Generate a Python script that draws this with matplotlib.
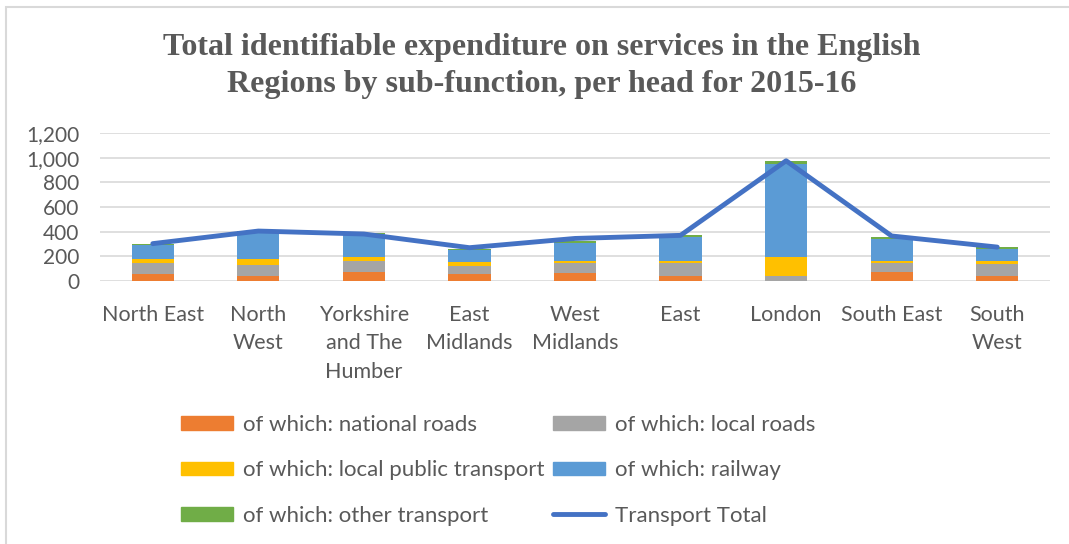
import matplotlib
matplotlib.use("Agg")
import matplotlib.pyplot as plt
from matplotlib.patches import Rectangle, Patch
from matplotlib.lines import Line2D
import numpy as np

regions = ["North East", "North\nWest", "Yorkshire\nand The\nHumber", "East\nMidlands",
           "West\nMidlands", "East", "London", "South East", "South\nWest"]

national_roads = [56, 42, 75, 56, 61, 42, 2, 73, 41]
local_roads = [94, 89, 89, 69, 81, 100, 41, 73, 95]
local_public_transport = [28, 47, 28, 28, 19, 19, 152, 14, 27]
railway = [111, 217, 189, 95, 150, 192, 751, 182, 93]
other_transport = [14, 8, 8, 14, 11, 17, 24, 16, 19]
transport_total = [303, 405, 381, 270, 345, 370, 975, 365, 275]

series_names = ["of which: national roads", "of which: local roads",
                "of which: local public transport", "of which: railway",
                "of which: other transport"]
series_colors = ["#ED7D31", "#A5A5A5", "#FFC000", "#5B9BD5", "#70AD47"]
line_color = "#4472C4"
text_color = "#595959"

yticks = [0, 200, 400, 600, 800, 1000, 1200]

plt.rcParams["font.family"] = ["Lato", "DejaVu Sans"]

fig = plt.figure(figsize=(10.69, 5.44), dpi=100)

# chart area frame
fig.patches.append(Rectangle((6 / 1069, -0.05), 1.2, (544 - 7) / 544 + 0.05,
                             transform=fig.transFigure, fill=False,
                             edgecolor="#D9D9D9", linewidth=1.5))

ax = fig.add_axes([100 / 1069, 1 - 281 / 544, 950 / 1069, 148 / 544])

x = np.arange(len(regions))
bottom = np.zeros(len(regions))
stacks = [national_roads, local_roads, local_public_transport, railway, other_transport]
for vals, name, col in zip(stacks, series_names, series_colors):
    ax.bar(x, vals, width=0.4, bottom=bottom, color=col, label=name, zorder=2)
    bottom += np.array(vals)

ax.plot(x, transport_total, color=line_color, linewidth=3.5, solid_capstyle="round",
        solid_joinstyle="round", zorder=3, label="Transport Total")

ax.set_xlim(-0.5, len(regions) - 0.5)
ax.set_ylim(0, 1200)
ax.set_yticks(yticks)
ax.set_yticklabels([f"{v:,}" for v in yticks])
ax.yaxis.grid(True, color="#D9D9D9", linewidth=1.2, zorder=0)
ax.set_axisbelow(True)
for s in ax.spines.values():
    s.set_visible(False)
ax.tick_params(axis="both", length=0, colors=text_color)
ax.tick_params(axis="y", pad=15, labelsize=15)
ax.set_xticks(x)
ax.set_xticklabels(regions, va="top", linespacing=1.54)
ax.tick_params(axis="x", pad=17, labelsize=15.5)

fig.text(542 / 1069, 1 - 66 / 544,
         "Total identifiable expenditure on services in the English\nRegions by sub-function, per head for 2015-16",
         ha="center", va="center", fontsize=23, fontweight="bold",
         family="Liberation Serif", color=text_color, linespacing=1.35)

handles = [Patch(color=c) for c in series_colors]
handles.append(Line2D([0], [0], color=line_color, linewidth=3.5, solid_capstyle="round"))
labels = series_names + ["Transport Total"]
order = [0, 2, 4, 1, 3, 5]
leg = fig.legend([handles[i] for i in order], [labels[i] for i in order],
                 ncol=2, loc="upper left", bbox_to_anchor=(161 / 1069, 1 - 395 / 544),
                 frameon=False, fontsize=16, handlelength=2.35, handleheight=0.55,
                 handletextpad=0.45, columnspacing=0.35, labelspacing=1.14,
                 labelcolor=text_color)

fig.savefig("out.png", dpi=100)
